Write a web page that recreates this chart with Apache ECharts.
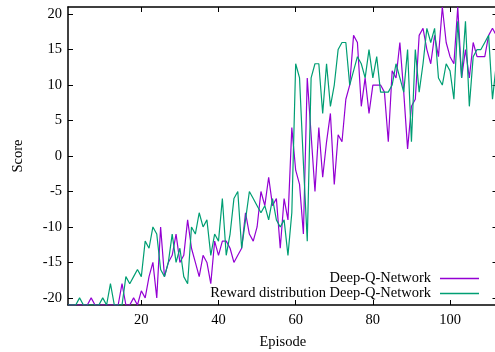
<!DOCTYPE html>
<html>
<head>
<meta charset="utf-8">
<script src="https://cdn.jsdelivr.net/npm/echarts@6/dist/echarts.min.js"></script>
<style>
  html, body { margin: 0; padding: 0; background: #fff; }
  #chart { width: 495px; height: 352px; }
</style>
</head>
<body>
<div id="chart"></div>
<script>
// Scores per episode
const dqnScores = [
  -21, -21, -21, -21, -21, -21, -20, -21, -21, -21,
  -21, -21, -21, -21, -18, -21, -21, -20, -21, -19,
  -20, -17, -15, -20, -10, -17, -15, -14, -11, -15,
  -14, -9, -13, -15, -17, -14, -15, -18, -12, -14,
  -12, -12, -13, -15, -14, -13, -8, -11, -12, -10,
  -5, -7, -3, -7, -6, -13, -6, -9, 4, -2,
  -4, -11, 11, 3, -5, 4, -3, 2, 6, -4,
  3, 2, 8, 10, 17, 16, 7, 11, 6, 10,
  10, 10, 9, 2, 12, 11, 16, 9, 1, 7,
  8, 17, 18, 15, 13, 17, 14, 21, 16, 14,
  13, 21, 11, 15, 11, 16, 14, 14, 14, 17,
  18, 17
];
const rewardDistScores = [
  -21, -21, -21, -20, -21, -21, -21, -21, -21, -20,
  -21, -18, -21, -21, -21, -17, -18, -17, -16, -17,
  -12, -13, -10, -11, -16, -17, -15, -11, -15, -13,
  -17, -18, -10, -11, -8, -10, -9, -14, -11, -12,
  -6, -14, -11, -6, -5, -13, -9, -5, -6, -7,
  -8, -7, -9, -6, -9, -10, -9, -14, -8, 13,
  11, -1, -12, 11, 13, 13, 6, 13, 7, 10,
  15, 16, 16, 10, 12, 14, 13, 11, 15, 11,
  14, 9, 9, 9, 10, 13, 11, 9, 15, 2,
  15, 9, 13, 18, 16, 18, 11, 10, 13, 12,
  8, 19, 11, 19, 7, 14, 15, 15, 16, 17,
  8, 13
];
const episodes = dqnScores.map((_, i) => i + 1);
const xTicks = [20, 40, 60, 80, 100];
const yTicks = [-20, -15, -10, -5, 0, 5, 10, 15, 20];
const seriesNames = ['Deep-Q-Network', 'Reward distribution Deep-Q-Network'];
const seriesColors = ['#9400d3', '#009e73'];

const FONT = 'Liberation Serif';
const FS = 14.5;
const axisLine = { show: true, onZero: false, lineStyle: { color: '#000', width: 1.5 } };
const tick = (vals) => ({ show: true, inside: true, length: 5, customValues: vals, lineStyle: { color: '#000', width: 1 } });

const chart = echarts.init(document.getElementById('chart'), null, { renderer: 'canvas' });
chart.setOption({
  animation: false,
  backgroundColor: '#fff',
  textStyle: { fontFamily: FONT },
  // the right border sits just past the canvas edge, as in the original
  grid: { left: 68, top: 7, width: 429.5, height: 298, containLabel: false, outerBoundsMode: 'none' },
  legend: {
    orient: 'vertical',
    right: 16,
    top: 271,
    padding: 0,
    align: 'right',
    itemWidth: 39,
    itemHeight: 1.5,
    itemGap: 0,
    icon: 'rect',
    textStyle: { fontFamily: FONT, fontSize: FS, color: '#000', lineHeight: 15, padding: [0, 4, 0, 0] },
    data: seriesNames
  },
  xAxis: [
    {
      type: 'value', position: 'bottom', min: 1, max: 112.3,
      name: 'Episode', nameLocation: 'middle', nameGap: 30,
      nameTextStyle: { fontFamily: FONT, fontSize: FS, color: '#000' },
      axisLine, axisTick: tick(xTicks),
      axisLabel: { customValues: xTicks, margin: 8, fontFamily: FONT, fontSize: FS, color: '#000' },
      splitLine: { show: false }
    },
    {
      type: 'value', position: 'top', min: 1, max: 112.3,
      axisLine, axisTick: tick(xTicks),
      axisLabel: { show: false }, splitLine: { show: false }
    }
  ],
  yAxis: [
    {
      type: 'value', position: 'left', min: -21, max: 21,
      name: 'Score', nameLocation: 'middle', nameGap: 42, nameRotate: 90,
      nameTextStyle: { fontFamily: FONT, fontSize: FS, color: '#000' },
      axisLine, axisTick: tick(yTicks),
      axisLabel: { customValues: yTicks, margin: 6, fontFamily: FONT, fontSize: FS, color: '#000' },
      splitLine: { show: false }
    },
    {
      type: 'value', position: 'right', min: -21, max: 21,
      axisLine, axisTick: tick(yTicks),
      axisLabel: { show: false }, splitLine: { show: false }
    }
  ],
  series: [
    {
      name: seriesNames[0], type: 'line',
      data: episodes.map((e, i) => [e, dqnScores[i]]),
      showSymbol: false,
      lineStyle: { width: 1.2, color: seriesColors[0] },
      itemStyle: { color: seriesColors[0] }
    },
    {
      name: seriesNames[1], type: 'line',
      data: episodes.map((e, i) => [e, rewardDistScores[i]]),
      showSymbol: false,
      lineStyle: { width: 1.2, color: seriesColors[1] },
      itemStyle: { color: seriesColors[1] }
    }
  ]
});
</script>
</body>
</html>
